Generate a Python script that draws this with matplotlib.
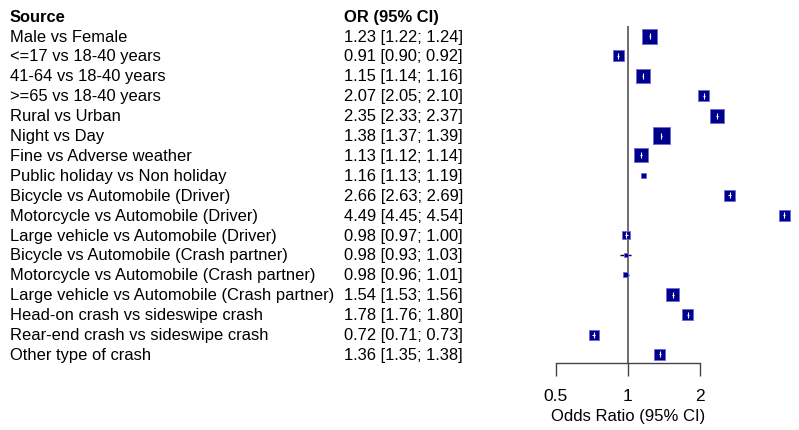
import matplotlib
matplotlib.use("Agg")
import matplotlib.pyplot as plt
import matplotlib.transforms as mtransforms
import numpy as np

plt.rcParams['font.family'] = ['Liberation Sans', 'DejaVu Sans']

sources = ["Male vs Female", "<=17 vs 18-40 years", "41-64 vs 18-40 years",
           ">=65 vs 18-40 years", "Rural vs Urban", "Night vs Day",
           "Fine vs Adverse weather", "Public holiday vs Non holiday",
           "Bicycle vs Automobile (Driver)", "Motorcycle vs Automobile (Driver)",
           "Large vehicle vs Automobile (Driver)",
           "Bicycle vs Automobile (Crash partner)",
           "Motorcycle vs Automobile (Crash partner)",
           "Large vehicle vs Automobile (Crash partner)",
           "Head-on crash vs sideswipe crash", "Rear-end crash vs sideswipe crash",
           "Other type of crash"]
odds = [1.23, 0.91, 1.15, 2.07, 2.35, 1.38, 1.13, 1.16, 2.66, 4.49, 0.98, 0.98,
        0.98, 1.54, 1.78, 0.72, 1.36]
lower = [1.22, 0.90, 1.14, 2.05, 2.33, 1.37, 1.12, 1.13, 2.63, 4.45, 0.97, 0.93,
         0.96, 1.53, 1.76, 0.71, 1.35]
upper = [1.24, 0.92, 1.16, 2.10, 2.37, 1.39, 1.14, 1.19, 2.69, 4.54, 1.00, 1.03,
         1.01, 1.56, 1.80, 0.73, 1.38]
# box side in pixels (relative weight)
weights = [15, 11, 14, 11, 14, 17, 14, 5, 11, 11, 8, 4, 5, 13, 11, 10, 11]

W, H = 799, 431
fig = plt.figure(figsize=(W / 100, H / 100), dpi=100)

px_per_oct = 72.0
x_one = 628.0
left_px, right_px = 540.0, 799.0
top_px, bot_px = 27.0, 364.0
row0, row_step = 37.0, 19.9

ax = fig.add_axes([left_px / W, 1 - bot_px / H, (right_px - left_px) / W,
                   (bot_px - top_px) / H])
ax.set_xscale('log', base=2)
ax.set_xlim(2 ** ((left_px - x_one) / px_per_oct), 2 ** ((right_px - x_one) / px_per_oct))
ax.set_ylim((bot_px - row0) / row_step, (top_px - row0) / row_step)

for s in ['top', 'right', 'left']:
    ax.spines[s].set_visible(False)
ax.spines['bottom'].set_bounds(0.5, 2)
ax.spines['bottom'].set_color('#444444')
ax.spines['bottom'].set_linewidth(1.0)
ax.set_yticks([])
ax.set_xticks([0.5, 1, 2])
ax.set_xticklabels(["0.5", "1", "2"])
ax.xaxis.set_minor_locator(matplotlib.ticker.NullLocator())
ax.tick_params(axis='x', direction='out', length=9, width=1.0, color='#444444',
               labelsize=12.5, pad=9)

ax.axvline(1, color='#555555', lw=1.2, zorder=1)

y = np.arange(len(sources))
odds = np.array(odds)
lower = np.array(lower)
upper = np.array(upper)
side = np.array(weights, dtype=float)

# black CI lines (visible only outside boxes)
ax.hlines(y, lower, upper, color='black', lw=1.0, zorder=2)
ax.scatter(odds, y, marker='s', s=(side * 0.72) ** 2, color='#00008B',
           edgecolors='#6a6ad8', linewidths=0.6, zorder=3)
# white CI part inside box
half = side / 2 / px_per_oct
wl = np.maximum(lower, odds * 2 ** (-half))
wr = np.minimum(upper, odds * 2 ** (half))
big = side >= 8
ax.hlines(y[big], wl[big], wr[big], color='white', lw=0.8, zorder=4)
ax.scatter(odds[big], y[big], marker='|', s=16, color='white', linewidths=0.8, zorder=4)

trans = mtransforms.blended_transform_factory(fig.transFigure, ax.transData)
ax.text(1, (417 - row0) / row_step, "Odds Ratio (95% CI)", fontsize=12,
        ha='center', va='center', clip_on=False)

fs = 11.85
ax.text(10 / W, -1, "Source", transform=trans, fontsize=fs, fontweight='bold',
        va='center', ha='left', clip_on=False)
ax.text(344 / W, -1, "OR (95% CI)", transform=trans, fontsize=fs, fontweight='bold',
        va='center', ha='left', clip_on=False)
for i, name in enumerate(sources):
    ax.text(10 / W, i, name, transform=trans, fontsize=fs, va='center', ha='left',
            clip_on=False)
    ax.text(344 / W, i, f"{odds[i]:.2f} [{lower[i]:.2f}; {upper[i]:.2f}]",
            transform=trans, fontsize=fs, va='center', ha='left', clip_on=False)

fig.savefig("out.png", dpi=100)
